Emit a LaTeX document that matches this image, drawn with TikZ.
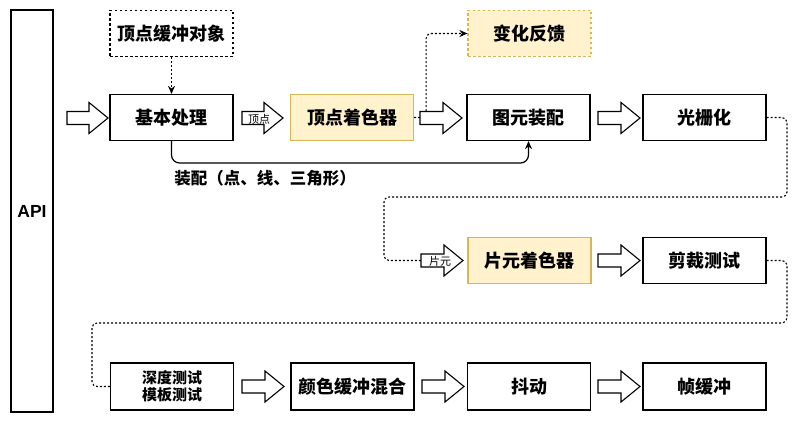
\documentclass[tikz,border=0pt]{standalone}
\usepackage{fontspec}
\setmainfont{Noto Sans CJK SC}
\newfontfamily\latinsans{Liberation Sans}
\usetikzlibrary{arrows.meta}
\definecolor{yfill}{HTML}{FFF2CC}
\definecolor{ydraw}{HTML}{D6B656}
\newcommand{\blockarr}[4]{% name, x1, x2, y
  \draw[line width=1.1pt, fill=white, line join=miter]
    (#2,#4-6.5) -- (#3-19,#4-6.5) -- (#3-19,#4-15.5) -- (#3,#4)
    -- (#3-19,#4+15.5) -- (#3-19,#4+6.5) -- (#2,#4+6.5) -- cycle;
  \coordinate (#1) at (#2,#4);}
\begin{document}
\begin{tikzpicture}[x=1pt,y=-1pt,
  box/.style={draw, line width=1.2pt, minimum width=123pt, minimum height=46pt,
    inner sep=0pt, font=\fontsize{18}{20}\selectfont\bfseries, align=center},
  ybox/.style={box, fill=yfill, draw=ydraw},
  dbox/.style={box, dash pattern=on 2.5pt off 2.5pt},
  dotline/.style={line width=1.1pt, dash pattern=on 2pt off 2pt, rounded corners=5pt},
  conn/.style={line width=1.2pt, rounded corners=8pt},
  tip/.style={-{Stealth[length=8pt,width=7pt]}},
  small/.style={font=\fontsize{11}{12}\selectfont, inner sep=0pt}
]
\useasboundingbox (0,0) rectangle (800,425);

% API column
\node[draw, line width=1.2pt, minimum width=42pt, minimum height=402pt, inner sep=0pt,
  font=\latinsans\bfseries\fontsize{17.5}{19}\selectfont] (api) at (32,211) {API};

% top row
\node[dbox] (vbo) at (171.5,33.5) {顶点缓冲对象};
\node[box] (basic) at (171.5,117.5) {基本处理};
\node[ybox] (vs) at (352,117.5) {顶点着色器};
\node[dbox, fill=yfill, draw=ydraw] (tf) at (529.5,33.5) {变化反馈};
\node[box] (prim) at (528.5,117.5) {图元装配};
\node[box] (rast) at (704.5,117.5) {光栅化};

% middle row
\node[ybox] (fs) at (529.5,260.5) {片元着色器};
\node[box] (clip) at (704.5,260.5) {剪裁测试};

% bottom row
\node[box, minimum height=47pt, font=\fontsize{15}{17.5}\selectfont\bfseries] (depth) at (172,386.5) {深度测试\\模板测试};
\node[box, minimum height=47pt] (blend) at (352.5,386.5) {颜色缓冲混合};
\node[box, minimum height=47pt] (dither) at (529,386.5) {抖动};
\node[box, minimum height=47pt] (fb) at (704.5,386.5) {帧缓冲};

% dashed connectors
\draw[dotline, tip] (vbo.south) -- (basic.north);
\draw[dotline, tip] (vs.east) -- ++(12,0) |- (tf.west);
\draw[dotline] (rast.east) -- (787,117.5) -- (787,197) -- (384,197) -- (384,260.5) -- (421,260.5);
\draw[dotline] (clip.east) -- (787,260.5) -- (787,323) -- (92,323) -- (92,386.5) -- (depth.west);

% solid connector
\draw[conn, tip] (basic.south) -- (171.5,163) -- (528.5,163) -- (prim.south);
\node[font=\fontsize{16.5}{18}\selectfont\bfseries, inner sep=0pt] (lbl) at (265,178) {装配（点、线、三角形）};

% block arrows
\blockarr{a0}{67}{108}{118}
\blockarr{a1}{242}{283}{118}
\blockarr{a2}{420}{462}{118}
\blockarr{a3}{598}{640}{118}
\blockarr{a4}{421}{463}{260.5}
\blockarr{a5}{598}{640}{260.5}
\blockarr{a6}{242}{284}{386.5}
\blockarr{a7}{422}{464}{386.5}
\blockarr{a8}{598}{640}{386.5}

\node[small] (l1) at (259,119) {顶点};
\node[small] (l2) at (440,261.5) {片元};
\end{tikzpicture}
\end{document}
